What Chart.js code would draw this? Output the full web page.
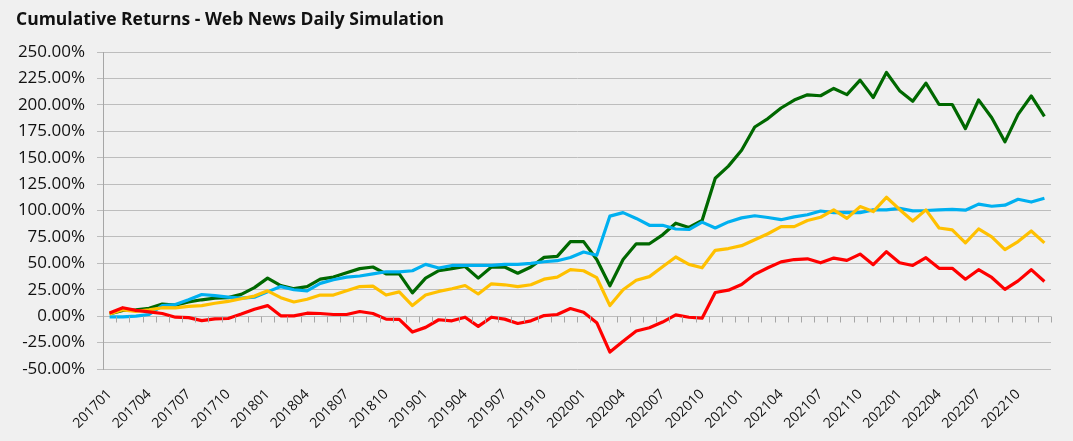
<!DOCTYPE html>
<html>
<head>
<meta charset="utf-8">
<title>Cumulative Returns - Web News Daily Simulation</title>
<script src="https://cdn.jsdelivr.net/npm/chart.js@4/dist/chart.umd.min.js"></script>
<style>
  html, body { margin: 0; padding: 0; background: #F0F0F0; }
  #wrap { width: 1073px; height: 441px; }
</style>
</head>
<body>
<div id="wrap"><canvas id="chart" width="1073" height="441"></canvas></div>
<script>
// months 201701 .. 202212
const months = [
  '201701','201702','201703','201704','201705','201706','201707','201708','201709','201710','201711','201712',
  '201801','201802','201803','201804','201805','201806','201807','201808','201809','201810','201811','201812',
  '201901','201902','201903','201904','201905','201906','201907','201908','201909','201910','201911','201912',
  '202001','202002','202003','202004','202005','202006','202007','202008','202009','202010','202011','202012',
  '202101','202102','202103','202104','202105','202106','202107','202108','202109','202110','202111','202112',
  '202201','202202','202203','202204','202205','202206','202207','202208','202209','202210','202211','202212'
];

// cumulative returns in %
const greenSeries = [
  2, 5.5, 6, 7.5, 11.5, 10.5, 13.5, 15.5, 17, 17.5, 20.6, 27,
  36, 29, 26, 28, 35, 37, 41, 45, 46.5, 40, 40, 22,
  36, 43, 45, 47, 36, 46.5, 46.5, 40.6, 46.5, 55.6, 56.6, 70.5,
  70.5, 53.6, 28.7, 53.6, 68.5, 68.5, 77, 88, 84, 90.5, 130.5, 142,
  157, 179, 187, 197, 204.5, 209.5, 208.6, 215.5, 209.7, 223.4, 207, 230.6,
  213.4, 203.4, 220.6, 200.3, 200.3, 177.5, 204.7, 187.8, 165, 191, 208.4, 189
];
const blueSeries = [
  -0.6, -0.6, 0, 1.6, 10, 11, 15.5, 20.5, 19.5, 18, 17, 18,
  23, 28, 25, 24, 31, 34.5, 37, 38, 40, 42, 42, 43,
  49, 45.6, 48, 48, 48, 48, 49, 49, 50, 51.5, 52.5, 55.5,
  60.7, 57.6, 94.7, 98, 92.5, 86, 86, 82.5, 82, 89, 83.5, 89.2,
  93, 95, 93.4, 91.3, 94, 96, 99.5, 98, 98, 98, 100.6, 100.6,
  102, 99.7, 100, 100.6, 101, 100.3, 106, 104, 105, 110.6, 108, 111.6
];
const yellowSeries = [
  2, 6, 4.5, 6, 8, 7.8, 9.3, 10, 12.2, 14, 16.5, 19,
  24, 17.5, 13.4, 16, 20, 20, 24, 28, 28.4, 20, 23, 10,
  20, 23.4, 26, 29, 21, 30.6, 29.7, 28, 29.7, 35, 37, 44,
  43, 36.4, 10, 25, 34, 37.4, 46.7, 56, 49, 45.8, 62.3, 64,
  66.7, 72.3, 78, 84.7, 84.7, 90.5, 93.6, 100.6, 92.5, 103.7, 99, 112.5,
  101, 90, 100.6, 83.4, 81.6, 69.4, 82.5, 75, 63, 70.6, 80.6, 69.4
];
const redSeries = [
  3, 8, 5.5, 4, 2.5, -1, -1.4, -4.2, -2.5, -2.2, 2, 6.6,
  10, 0.3, 0.3, 2.8, 2.5, 1.6, 1.6, 4.4, 2.5, -2.8, -3, -15,
  -10.6, -3.4, -4.4, -1, -9.7, -1, -2.8, -6.9, -4.4, 0.6, 1.6, 7.2,
  3.7, -6.2, -34, -23.7, -14, -11, -5.6, 1.2, -1, -1.9, 22.4, 24.6,
  30, 39.6, 45.8, 51.4, 53.6, 54.3, 50.5, 55, 52.8, 58.75, 48.75, 61,
  50.6, 48, 55.3, 45.3, 45.3, 35, 44, 36.6, 25.3, 33.4, 44, 32.8
];

const yMin = -50;
const yMax = 250;
const yStep = 25;
const labelEvery = 3;

// tick marks of the category axis sit on the 0% line
const zeroAxisTicks = {
  id: 'zeroAxisTicks',
  afterDatasetsDraw(chart) {
    const x = chart.scales.x;
    const y = chart.scales.y;
    const ctx = chart.ctx;
    const y0 = Math.round(y.getPixelForValue(0)) + 0.5;
    const half = (x.getPixelForValue(1) - x.getPixelForValue(0)) / 2;
    ctx.save();
    ctx.strokeStyle = '#A6A6A6';
    ctx.lineWidth = 1;
    ctx.beginPath();
    for (let i = 0; i <= months.length; i++) {
      const px = Math.round(x.getPixelForValue(0) - half + i * half * 2) + 0.5;
      ctx.moveTo(px, y0);
      ctx.lineTo(px, y0 + 6);
    }
    ctx.stroke();
    ctx.restore();
  }
};

const line = (data, color) => ({
  data: data,
  borderColor: color,
  backgroundColor: color,
  borderWidth: 3.2,
  pointRadius: 0,
  tension: 0,
  borderJoinStyle: 'round',
  fill: false
});

new Chart(document.getElementById('chart').getContext('2d'), {
  type: 'line',
  data: {
    labels: months,
    datasets: [
      line(redSeries, '#FF0000'),
      line(yellowSeries, '#FFC000'),
      line(blueSeries, '#00B0F0'),
      line(greenSeries, '#006800')
    ]
  },
  options: {
    responsive: false,
    animation: false,
    layout: { padding: { left: 16, right: 22, top: 0, bottom: 0 } },
    plugins: {
      legend: { display: false },
      tooltip: { enabled: false },
      title: {
        display: true,
        text: 'Cumulative Returns - Web News Daily Simulation',
        align: 'start',
        color: '#111111',
        font: { family: '"Open Sans", sans-serif', size: 17.5, weight: 'bold' },
        padding: { top: 10, bottom: 21 }
      }
    },
    scales: {
      x: {
        offset: true,
        grid: { display: false, offset: true },
        border: { display: false },
        ticks: {
          autoSkip: false,
          maxRotation: 45,
          minRotation: 45,
          color: '#111111',
          padding: 9,
          font: { family: '"Open Sans", sans-serif', size: 14 },
          callback: function (value, index) {
            return index % labelEvery === 0 ? this.getLabelForValue(value) : '';
          }
        },
        afterFit(scale) { scale.height = 72; }
      },
      y: {
        min: yMin,
        max: yMax,
        ticks: {
          stepSize: yStep,
          color: '#111111',
          padding: 12,
          font: { family: '"Open Sans", sans-serif', size: 17 },
          callback: v => v.toFixed(2) + '%'
        },
        grid: {
          color: '#BDBDBD',
          lineWidth: 1,
          tickLength: 6
        },
        border: { display: true, color: '#A6A6A6', width: 1 },
        afterFit(scale) { scale.width = 87; }
      }
    }
  },
  plugins: [zeroAxisTicks]
});
</script>
</body>
</html>
